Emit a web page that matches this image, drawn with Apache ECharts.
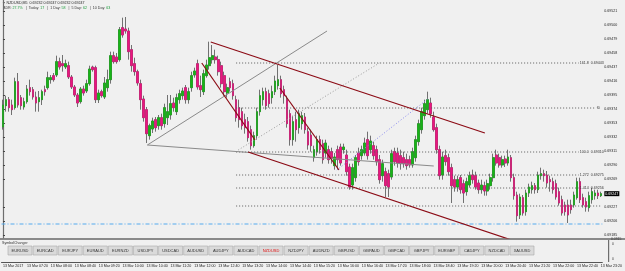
<!DOCTYPE html>
<html>
<head>
<meta charset="utf-8">
<script src="https://cdn.jsdelivr.net/npm/echarts@6/dist/echarts.min.js"></script>
<style>
  html, body { margin: 0; padding: 0; background: #f0f0f0; }
  #chart { width: 625px; height: 271px; }
</style>
</head>
<body>
<div id="chart"></div>
<script>
  // price scale
  const currentPrice = 0.69247;
  const priceTicks = [0.69185, 0.69206, 0.69227, 0.69269, 0.69290, 0.69311, 0.69332, 0.69353,
    0.69374, 0.69395, 0.69416, 0.69437, 0.69458, 0.69479, 0.69500, 0.69521];
  const timeLabels = ['13 Mar 2017', '13 Mar 07:20', '13 Mar 08:00', '13 Mar 08:40', '13 Mar 09:20',
    '13 Mar 10:00', '13 Mar 10:40', '13 Mar 11:20', '13 Mar 12:00', '13 Mar 12:40', '13 Mar 13:20',
    '13 Mar 14:00', '13 Mar 14:40', '13 Mar 15:20', '13 Mar 16:00', '13 Mar 16:40', '13 Mar 17:20',
    '13 Mar 18:00', '13 Mar 18:40', '13 Mar 19:20', '13 Mar 20:00', '13 Mar 20:40', '13 Mar 21:20',
    '13 Mar 22:00', '13 Mar 22:40', '13 Mar 23:20'];

  // NZDUSD M5 candles, 06:40 .. 23:20
  const openP = [
    0.69347, 0.69379, 0.69388, 0.69380, 0.69376, 0.69415, 0.69391, 0.69377, 0.69385, 0.69406,
    0.69403, 0.69392, 0.69385, 0.69388, 0.69403, 0.69406, 0.69418, 0.69424, 0.69425, 0.69445,
    0.69442, 0.69437, 0.69439, 0.69422, 0.69407, 0.69395, 0.69385, 0.69404, 0.69401, 0.69412,
    0.69437, 0.69436, 0.69388, 0.69400, 0.69392, 0.69406, 0.69418, 0.69454, 0.69452, 0.69448,
    0.69496, 0.69494, 0.69491, 0.69463, 0.69442, 0.69430, 0.69412, 0.69389, 0.69373, 0.69334,
    0.69344, 0.69358, 0.69349, 0.69361, 0.69352, 0.69361, 0.69365, 0.69383, 0.69370, 0.69388,
    0.69394, 0.69406, 0.69388, 0.69406, 0.69425, 0.69442, 0.69409, 0.69400, 0.69424, 0.69439,
    0.69448, 0.69452, 0.69448, 0.69439, 0.69424, 0.69398, 0.69415, 0.69412, 0.69388, 0.69376,
    0.69370, 0.69358, 0.69355, 0.69343, 0.69319, 0.69334, 0.69370, 0.69388, 0.69400, 0.69397,
    0.69391, 0.69400, 0.69409, 0.69418, 0.69403, 0.69388, 0.69367, 0.69328, 0.69358, 0.69346,
    0.69352, 0.69362, 0.69340, 0.69335, 0.69301, 0.69310, 0.69328, 0.69322, 0.69308, 0.69313,
    0.69310, 0.69289, 0.69313, 0.69317, 0.69313, 0.69305, 0.69287, 0.69260, 0.69271, 0.69308,
    0.69304, 0.69308, 0.69328, 0.69313, 0.69319, 0.69313, 0.69298, 0.69274, 0.69280, 0.69277,
    0.69272, 0.69310, 0.69308, 0.69304, 0.69301, 0.69298, 0.69298, 0.69290, 0.69301, 0.69325,
    0.69343, 0.69364, 0.69373, 0.69383, 0.69362, 0.69346, 0.69313, 0.69275, 0.69304, 0.69301,
    0.69286, 0.69268, 0.69257, 0.69271, 0.69262, 0.69250, 0.69260, 0.69275, 0.69274, 0.69263,
    0.69253, 0.69259, 0.69251, 0.69259, 0.69271, 0.69305, 0.69301, 0.69290, 0.69299, 0.69293,
    0.69301, 0.69271, 0.69245, 0.69215, 0.69241, 0.69220, 0.69248, 0.69253, 0.69259, 0.69253,
    0.69274, 0.69277, 0.69275, 0.69268, 0.69265, 0.69262, 0.69250, 0.69238, 0.69230, 0.69230,
    0.69230, 0.69230, 0.69241, 0.69265, 0.69241, 0.69235, 0.69226, 0.69238, 0.69244, 0.69248,
    0.69244
  ];
  const closeP = [
    0.69380, 0.69388, 0.69376, 0.69373, 0.69415, 0.69380, 0.69379, 0.69385, 0.69404, 0.69400,
    0.69392, 0.69383, 0.69391, 0.69400, 0.69400, 0.69421, 0.69421, 0.69418, 0.69445, 0.69437,
    0.69439, 0.69442, 0.69422, 0.69407, 0.69395, 0.69383, 0.69404, 0.69398, 0.69412, 0.69434,
    0.69433, 0.69388, 0.69398, 0.69394, 0.69413, 0.69418, 0.69454, 0.69445, 0.69445, 0.69493,
    0.69485, 0.69491, 0.69460, 0.69439, 0.69430, 0.69413, 0.69388, 0.69361, 0.69337, 0.69349,
    0.69356, 0.69346, 0.69361, 0.69349, 0.69376, 0.69370, 0.69382, 0.69376, 0.69391, 0.69397,
    0.69401, 0.69388, 0.69400, 0.69424, 0.69431, 0.69407, 0.69403, 0.69427, 0.69440, 0.69451,
    0.69454, 0.69448, 0.69430, 0.69412, 0.69400, 0.69406, 0.69406, 0.69394, 0.69361, 0.69358,
    0.69349, 0.69346, 0.69331, 0.69319, 0.69334, 0.69370, 0.69394, 0.69400, 0.69379, 0.69382,
    0.69400, 0.69416, 0.69418, 0.69397, 0.69394, 0.69352, 0.69328, 0.69355, 0.69343, 0.69367,
    0.69364, 0.69343, 0.69320, 0.69319, 0.69313, 0.69328, 0.69313, 0.69298, 0.69323, 0.69298,
    0.69301, 0.69302, 0.69298, 0.69293, 0.69317, 0.69280, 0.69257, 0.69286, 0.69301, 0.69295,
    0.69313, 0.69323, 0.69304, 0.69326, 0.69304, 0.69295, 0.69268, 0.69292, 0.69259, 0.69257,
    0.69307, 0.69295, 0.69293, 0.69292, 0.69292, 0.69289, 0.69290, 0.69310, 0.69328, 0.69352,
    0.69370, 0.69382, 0.69388, 0.69367, 0.69343, 0.69313, 0.69274, 0.69302, 0.69295, 0.69280,
    0.69259, 0.69257, 0.69268, 0.69253, 0.69248, 0.69265, 0.69274, 0.69268, 0.69257, 0.69253,
    0.69260, 0.69251, 0.69262, 0.69271, 0.69301, 0.69293, 0.69290, 0.69298, 0.69293, 0.69302,
    0.69271, 0.69244, 0.69214, 0.69242, 0.69218, 0.69248, 0.69257, 0.69259, 0.69253, 0.69275,
    0.69277, 0.69274, 0.69263, 0.69265, 0.69253, 0.69242, 0.69233, 0.69218, 0.69220, 0.69215,
    0.69223, 0.69245, 0.69265, 0.69238, 0.69230, 0.69227, 0.69244, 0.69250, 0.69248, 0.69244,
    0.69247
  ];
  const highP = [
    0.69388, 0.69394, 0.69392, 0.69388, 0.69421, 0.69428, 0.69395, 0.69391, 0.69410, 0.69418,
    0.69407, 0.69400, 0.69401, 0.69403, 0.69409, 0.69430, 0.69425, 0.69428, 0.69454, 0.69451,
    0.69455, 0.69448, 0.69445, 0.69425, 0.69410, 0.69398, 0.69407, 0.69409, 0.69418, 0.69439,
    0.69439, 0.69439, 0.69403, 0.69403, 0.69422, 0.69433, 0.69460, 0.69460, 0.69458, 0.69497,
    0.69511, 0.69512, 0.69496, 0.69470, 0.69451, 0.69433, 0.69418, 0.69394, 0.69377, 0.69352,
    0.69361, 0.69362, 0.69365, 0.69367, 0.69382, 0.69395, 0.69395, 0.69391, 0.69397, 0.69403,
    0.69406, 0.69410, 0.69406, 0.69430, 0.69436, 0.69448, 0.69424, 0.69433, 0.69448, 0.69475,
    0.69470, 0.69463, 0.69454, 0.69445, 0.69430, 0.69412, 0.69421, 0.69418, 0.69394, 0.69388,
    0.69376, 0.69367, 0.69362, 0.69349, 0.69340, 0.69376, 0.69403, 0.69406, 0.69406, 0.69403,
    0.69409, 0.69424, 0.69440, 0.69424, 0.69409, 0.69394, 0.69373, 0.69364, 0.69370, 0.69373,
    0.69370, 0.69368, 0.69346, 0.69343, 0.69319, 0.69334, 0.69334, 0.69328, 0.69328, 0.69319,
    0.69316, 0.69308, 0.69319, 0.69322, 0.69322, 0.69313, 0.69292, 0.69292, 0.69305, 0.69316,
    0.69319, 0.69331, 0.69340, 0.69334, 0.69325, 0.69319, 0.69305, 0.69298, 0.69286, 0.69283,
    0.69313, 0.69316, 0.69316, 0.69313, 0.69310, 0.69307, 0.69304, 0.69316, 0.69334, 0.69358,
    0.69376, 0.69388, 0.69400, 0.69391, 0.69370, 0.69352, 0.69319, 0.69310, 0.69313, 0.69307,
    0.69292, 0.69274, 0.69274, 0.69275, 0.69268, 0.69271, 0.69280, 0.69283, 0.69280, 0.69268,
    0.69268, 0.69265, 0.69268, 0.69277, 0.69307, 0.69313, 0.69307, 0.69304, 0.69304, 0.69313,
    0.69305, 0.69277, 0.69250, 0.69247, 0.69245, 0.69253, 0.69262, 0.69265, 0.69263, 0.69280,
    0.69286, 0.69283, 0.69281, 0.69274, 0.69271, 0.69268, 0.69256, 0.69244, 0.69235, 0.69238,
    0.69238, 0.69250, 0.69271, 0.69271, 0.69247, 0.69241, 0.69250, 0.69256, 0.69253, 0.69253,
    0.69250
  ];
  const lowP = [
    0.69343, 0.69370, 0.69370, 0.69365, 0.69373, 0.69376, 0.69373, 0.69373, 0.69382, 0.69394,
    0.69388, 0.69370, 0.69370, 0.69380, 0.69394, 0.69403, 0.69412, 0.69415, 0.69422, 0.69433,
    0.69430, 0.69434, 0.69419, 0.69404, 0.69392, 0.69377, 0.69382, 0.69394, 0.69398, 0.69409,
    0.69430, 0.69383, 0.69383, 0.69391, 0.69389, 0.69400, 0.69412, 0.69442, 0.69442, 0.69445,
    0.69481, 0.69487, 0.69448, 0.69430, 0.69424, 0.69409, 0.69373, 0.69355, 0.69323, 0.69328,
    0.69338, 0.69340, 0.69343, 0.69343, 0.69346, 0.69350, 0.69358, 0.69370, 0.69365, 0.69382,
    0.69388, 0.69382, 0.69382, 0.69400, 0.69421, 0.69403, 0.69392, 0.69395, 0.69421, 0.69433,
    0.69442, 0.69442, 0.69424, 0.69406, 0.69394, 0.69391, 0.69400, 0.69388, 0.69355, 0.69346,
    0.69343, 0.69337, 0.69325, 0.69313, 0.69316, 0.69328, 0.69364, 0.69379, 0.69373, 0.69376,
    0.69382, 0.69395, 0.69403, 0.69391, 0.69382, 0.69346, 0.69319, 0.69319, 0.69325, 0.69337,
    0.69343, 0.69337, 0.69313, 0.69310, 0.69295, 0.69304, 0.69307, 0.69292, 0.69301, 0.69292,
    0.69292, 0.69283, 0.69283, 0.69289, 0.69307, 0.69274, 0.69253, 0.69253, 0.69265, 0.69289,
    0.69298, 0.69304, 0.69298, 0.69307, 0.69298, 0.69289, 0.69262, 0.69265, 0.69242, 0.69242,
    0.69268, 0.69289, 0.69286, 0.69283, 0.69286, 0.69283, 0.69286, 0.69286, 0.69295, 0.69319,
    0.69337, 0.69358, 0.69367, 0.69361, 0.69340, 0.69307, 0.69268, 0.69268, 0.69289, 0.69274,
    0.69233, 0.69250, 0.69250, 0.69247, 0.69233, 0.69244, 0.69256, 0.69262, 0.69253, 0.69247,
    0.69247, 0.69244, 0.69244, 0.69253, 0.69265, 0.69289, 0.69286, 0.69286, 0.69287, 0.69289,
    0.69265, 0.69238, 0.69205, 0.69209, 0.69214, 0.69214, 0.69242, 0.69247, 0.69247, 0.69248,
    0.69268, 0.69265, 0.69256, 0.69250, 0.69247, 0.69238, 0.69229, 0.69214, 0.69214, 0.69203,
    0.69217, 0.69226, 0.69238, 0.69233, 0.69226, 0.69220, 0.69220, 0.69232, 0.69238, 0.69239,
    0.69242
  ];

  // drawn objects: [bar index, price]
  const channelTop = [[69.5, 0.694745], [161.2, 0.69338]];
  const channelBottom = [[82.0, 0.693095], [171.1, 0.69176]];
  const legDown1 = [[66.5, 0.69443], [84.3, 0.693275]];
  const legDown2 = [[92.6, 0.694055], [112.4, 0.692825]];
  const grayUp = [[48.3, 0.6932], [108.4, 0.69491]];
  const grayFlat = [[48.3, 0.6932], [144.1, 0.692885]];
  const grayDotted = [[78.7, 0.693125], [125.9, 0.69443]];
  const blueDotted = [[111.7, 0.692825], [142.1, 0.69389]];
  const fibLevels = [0.69443, 0.693755, 0.693095, 0.69275, 0.692555, 0.692285];
  const fibTexts = ['161.8  0.69443', 'f0', '100.0  0.69310', '1.272  0.69275', '1.414  0.69256', ''];
  const fibEnds = [192.6, 198.3, 192.6, 192.6, 192.6, 200.2];
  const adrLine = 0.692015;

  const symbols = ['EURUSD', 'EURCAD', 'EURJPY', 'EURAUD', 'EURNZD', 'USDJPY', 'USDCAD', 'AUDUSD',
    'AUDJPY', 'AUDCAD', 'NZDUSD', 'NZDJPY', 'AUDNZD', 'GBPUSD', 'GBPAUD', 'GBPCAD', 'GBPJPY',
    'EURGBP', 'CADJPY', 'NZDCAD', 'XAUUSD'];

  let categories = openP.map((o, i) => String(i));
  let candles = openP.map((o, i) => [o, closeP[i], lowP[i], highP[i]]);
  // body only (no wick), painted over the wicks
  let bodies = openP.map((o, i) => [o, closeP[i], Math.min(o, closeP[i]), Math.max(o, closeP[i])]);

  function segment(data, color, width, type) {
    return {
      type: 'line', xAxisIndex: 1, yAxisIndex: 0, data: data, symbol: 'none',
      silent: true, lineStyle: { color: color, width: width, type: type }
    };
  }

  let series = [{
    type: 'candlestick',
    data: candles,
    barWidth: '72%',
    itemStyle: { color: '#555', color0: '#555', borderColor: '#505050', borderColor0: '#505050', borderWidth: 0.8 }
  }, {
    type: 'candlestick',
    data: bodies,
    barWidth: '72%',
    itemStyle: { color: '#17b517', color0: '#ea1680', borderColor: '#17b517', borderColor0: '#ea1680', borderWidth: 0.5 }
  }];
  fibLevels.forEach((lv, k) => {
    let s = segment([[78.0, lv], [fibEnds[k], lv]], '#5a5a5a', 1, [1, 2]);
    s.endLabel = { show: fibTexts[k] !== '', formatter: fibTexts[k], fontSize: 3.6, color: '#333', distance: 1 };
    series.push(s);
  });
  series.push(segment([[-0.5, adrLine], [200.5, adrLine]], '#55aaee', 1, [4, 2, 1, 2]));
  series.push(segment(grayUp, '#8a8a8a', 1, 'solid'));
  series.push(segment(grayFlat, '#8a8a8a', 1, 'solid'));
  series.push(segment(grayDotted, '#9a9a9a', 1, [1, 2]));
  series.push(segment(blueDotted, '#8888ee', 1, [1, 2]));
  series.push(segment(channelTop, '#8b0a14', 1.2, 'solid'));
  series.push(segment(channelBottom, '#8b0a14', 1.2, 'solid'));
  series.push(segment(legDown1, '#8b0a14', 1.2, 'solid'));
  series.push(segment(legDown2, '#8b0a14', 1.2, 'solid'));

  // SymbolChanger panel and header texts
  let graphics = [
    { type: 'rect', shape: { x: 0, y: 238, width: 625, height: 2 }, style: { fill: '#8a8a8a' } },
    { type: 'rect', shape: { x: 608, y: 240, width: 1.2, height: 22 }, style: { fill: '#6e6e6e' } },
    { type: 'text', x: 2, y: 240.5, style: { text: 'SymbolChanger', font: '3.6px sans-serif', fill: '#333' } },
    { type: 'text', x: 611, y: 238, style: { text: '0.0915', font: '3.4px sans-serif', fill: '#333' } },
    { type: 'text', x: 612, y: 243, style: { text: '0', font: '3.4px sans-serif', fill: '#333' } },
    { type: 'text', x: 612, y: 258, style: { text: '0', font: '3.4px sans-serif', fill: '#333' } },
    { type: 'text', x: 2, y: 0.8, style: { text: '\u25bc NZDUSD,M5  0.69232 0.69247 0.69232 0.69247', font: '3.6px sans-serif', fill: '#222' } },
    {
      type: 'text', x: 3, y: 6.2, style: {
        text: '{a|ADR: }{g|27.7%}{a|   |  Today: }{g|17}{a|   |  1 Day: }{g|58}{a|   |  5 Day: }{g|62}{a|   |  10 Day: }{g|63}',
        rich: { a: { fontSize: 3.6, fill: '#333' }, g: { fontSize: 3.6, fill: '#1a9a3a' } }
      }
    }
  ];
  symbols.forEach((s, k) => {
    let x = 8 + k * 25.1;
    graphics.push({ type: 'rect', shape: { x: x, y: 246, width: 24, height: 9 }, style: { fill: '#dadada', stroke: '#a8a8a8', lineWidth: 0.6 } });
    graphics.push({
      type: 'text', x: x + 12, y: 250.5,
      style: { text: s, font: '4px sans-serif', fill: s === 'NZDUSD' ? '#e01010' : '#333', align: 'center', verticalAlign: 'middle' }
    });
  });

  let myChart = echarts.init(document.getElementById('chart'));
  myChart.setOption({
    animation: false,
    backgroundColor: '#f0f0f0',
    grid: { left: 0, top: 0, width: 608, height: 238 },
    xAxis: [{
      type: 'category', data: categories, boundaryGap: true, offset: 24,
      axisLine: { lineStyle: { color: '#555', width: 1 } },
      axisTick: { interval: 7, length: 2, lineStyle: { color: '#333' } },
      axisLabel: {
        interval: 7, align: 'left', fontSize: 3.6, color: '#222', margin: 2,
        formatter: (v, i) => timeLabels[i / 8]
      },
      splitLine: { show: false }
    }, {
      type: 'value', min: -0.5, max: 200.5, show: false
    }],
    yAxis: [{
      type: 'value', position: 'right', min: 0.691805, max: 0.695375, scale: true,
      axisLine: { show: true, lineStyle: { color: '#6e6e6e', width: 1.2 } },
      axisTick: { show: true, length: 2, customValues: priceTicks, lineStyle: { color: '#444' } },
      axisLabel: { customValues: priceTicks, fontSize: 3.6, color: '#222', margin: 2, formatter: v => v.toFixed(5) },
      splitLine: { show: false }
    }, {
      type: 'value', position: 'right', min: 0.691805, max: 0.695375, scale: true,
      axisLine: { show: false }, axisTick: { show: false },
      axisLabel: {
        customValues: [currentPrice], fontSize: 3.6, color: '#fff', backgroundColor: '#000',
        padding: [0.5, 1], margin: 2, formatter: v => v.toFixed(5)
      },
      splitLine: { show: false }
    }],
    series: series,
    graphic: graphics
  });
</script>
</body>
</html>
